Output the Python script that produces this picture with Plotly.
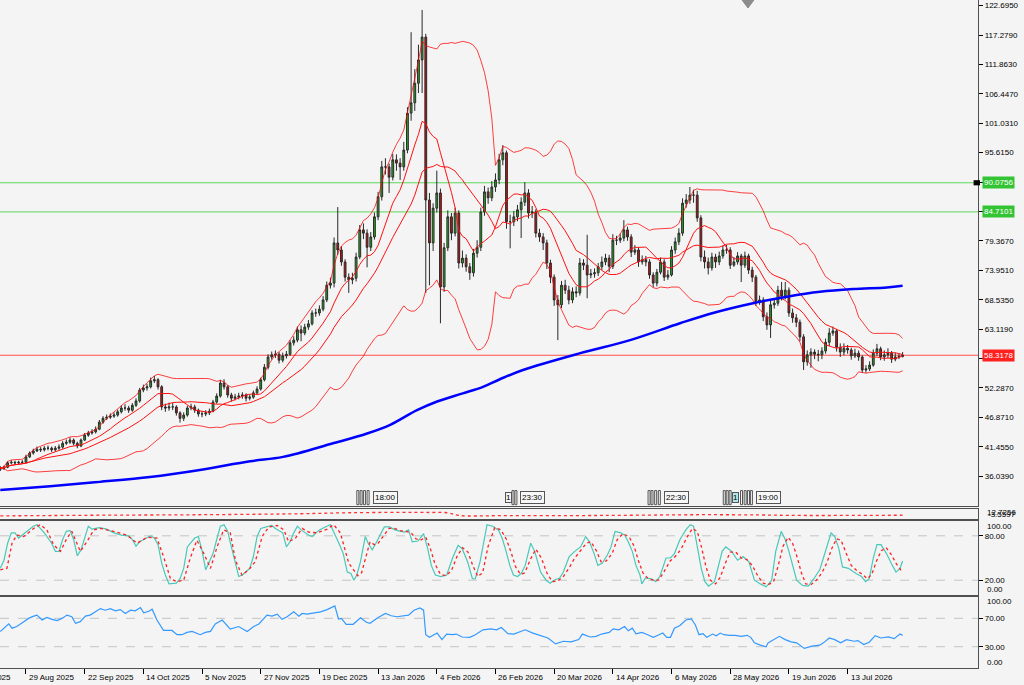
import numpy as np
import pandas as pd
import plotly.graph_objects as go

# daily bars, first visible bar is 20 Aug 2025 (no bar on 25 Dec and 3 Apr)
first_day = "2025-08-20"
holidays = ["2025-12-25", "2026-04-03"]

first_open = 37.3
closes = [
    37.5, 37.7, 38.5, 38.6, 38.5, 38.6, 38.6, 39.6, 40.3, 40.7,
    41.0, 40.9, 41.2, 41.2, 40.9, 41.2, 41.4, 42.1, 42.3, 42.7,
    42.1, 41.6, 42.7, 43.6, 44.0, 44.2, 44.7, 46.0, 46.7, 46.9,
    47.1, 47.3, 47.9, 48.6, 48.6, 48.2, 49.1, 49.9, 51.9, 52.3,
    52.5, 53.6, 53.8, 52.5, 48.8, 48.6, 48.8, 48.8, 47.7, 46.7,
    47.3, 48.6, 48.8, 48.2, 47.5, 47.5, 47.7, 48.0, 49.7, 50.8,
    53.2, 52.5, 51.0, 50.4, 50.6, 50.8, 51.0, 50.4, 50.6, 51.4,
    52.1, 53.8, 56.1, 58.0, 58.4, 58.5, 57.4, 58.2, 58.5, 60.6,
    61.1, 63.0, 62.4, 63.5, 64.1, 66.1, 66.1, 66.8, 68.5, 71.2,
    71.6, 79.0, 77.7, 75.5, 72.7, 72.2, 72.5, 76.4, 81.4, 80.8,
    78.2, 80.1, 83.8, 87.5, 93.0, 93.0, 91.1, 94.3, 93.7, 93.0,
    96.1, 102.9, 104.8, 108.4, 112.7, 116.9, 86.9, 79.0, 85.4, 88.2,
    70.9, 78.1, 83.8, 80.8, 84.5, 75.3, 76.2, 74.6, 73.5, 77.1,
    78.2, 84.7, 88.4, 87.3, 89.3, 90.6, 94.3, 95.6, 82.9, 82.9,
    83.8, 85.1, 86.5, 88.2, 84.5, 84.7, 80.8, 80.1, 79.0, 75.3,
    72.7, 68.5, 67.6, 71.2, 70.3, 68.5, 70.0, 69.8, 75.3, 74.9,
    73.1, 73.3, 73.5, 74.6, 75.5, 76.2, 74.7, 79.5, 79.5, 79.9,
    81.4, 80.1, 77.3, 77.7, 75.5, 75.9, 75.5, 73.1, 71.6, 73.6,
    75.5, 72.7, 73.1, 77.7, 79.2, 80.8, 86.3, 86.9, 87.8, 87.8,
    83.6, 76.4, 75.5, 74.4, 76.4, 75.5, 76.6, 77.7, 77.7, 74.9,
    75.5, 76.6, 74.9, 76.6, 74.0, 72.7, 68.1, 68.5, 65.4, 63.9,
    67.6, 67.9, 70.3, 69.2, 70.3, 66.1, 65.2, 64.4, 61.7, 57.1,
    58.4, 58.9, 58.5, 58.4, 59.1, 60.7, 62.4, 62.8, 59.8, 58.9,
    59.6, 59.3, 58.2, 58.7, 58.0, 55.6, 55.8, 56.5, 58.7, 59.5,
    58.0, 58.4, 58.7, 57.6, 58.0, 58.1, 58.3178,
]
highs = [
    37.9, 38.0, 38.8, 39.0, 38.9, 38.9, 39.0, 40.0, 40.6, 41.1,
    41.5, 41.4, 41.6, 41.7, 41.5, 41.6, 41.9, 42.5, 42.8, 43.2,
    43.0, 42.4, 43.0, 44.0, 44.4, 44.7, 45.2, 46.4, 47.1, 47.4,
    47.6, 47.8, 48.3, 49.1, 49.3, 49.0, 49.5, 50.4, 52.3, 52.9,
    53.1, 54.2, 54.5, 54.1, 52.8, 49.4, 49.6, 49.5, 49.1, 48.0,
    47.8, 49.0, 49.4, 49.2, 48.5, 48.0, 48.2, 48.5, 50.1, 51.3,
    53.8, 53.9, 52.8, 51.4, 51.2, 51.4, 51.5, 51.3, 51.1, 51.8,
    52.6, 54.2, 56.7, 58.5, 59.0, 59.2, 58.9, 58.8, 59.1, 61.1,
    61.8, 63.6, 63.8, 64.1, 64.8, 66.6, 66.9, 67.5, 69.2, 71.9,
    72.6, 80.0, 85.6, 78.4, 76.0, 73.4, 73.5, 77.2, 82.3, 82.6,
    81.5, 81.0, 84.6, 88.4, 94.1, 94.6, 93.6, 95.4, 95.3, 94.6,
    97.6, 104.0, 117.8, 111.0, 115.5, 121.9, 117.5, 88.2, 86.3, 92.3,
    89.0, 79.0, 85.0, 84.5, 85.5, 85.0, 77.6, 76.9, 75.3, 77.9,
    79.5, 85.5, 89.5, 89.2, 90.4, 91.8, 95.4, 97.0, 96.0, 84.2,
    84.9, 86.0, 87.4, 90.2, 88.9, 85.8, 85.2, 81.6, 80.8, 79.6,
    75.9, 73.2, 69.4, 72.0, 72.2, 71.1, 70.8, 71.0, 76.2, 76.0,
    80.5, 74.2, 74.3, 75.3, 76.5, 77.0, 76.8, 80.6, 80.3, 80.7,
    83.2, 82.0, 80.6, 78.6, 78.2, 76.7, 76.6, 76.0, 73.6, 74.2,
    76.3, 76.0, 74.0, 78.4, 80.0, 81.7, 87.2, 88.0, 89.3, 88.8,
    88.6, 84.1, 77.6, 76.3, 77.2, 77.0, 77.4, 78.5, 78.6, 78.2,
    76.4, 77.3, 77.0, 77.4, 77.0, 74.6, 73.1, 69.3, 69.0, 66.2,
    68.3, 68.7, 71.1, 71.8, 71.8, 70.8, 66.9, 65.9, 64.9, 62.2,
    59.2, 59.6, 59.4, 59.3, 59.8, 61.4, 63.3, 63.6, 63.1, 60.5,
    60.5, 60.2, 59.7, 59.5, 59.2, 58.3, 56.5, 57.2, 59.4, 60.4,
    59.9, 59.2, 59.6, 59.1, 58.8, 58.7, 58.9,
]
lows = [
    37.0, 37.2, 37.5, 38.2, 38.2, 38.2, 38.3, 38.4, 39.4, 40.0,
    40.5, 40.5, 40.6, 40.8, 40.5, 40.6, 40.9, 41.1, 41.8, 42.0,
    41.7, 41.2, 41.4, 42.5, 43.3, 43.7, 43.9, 44.5, 45.7, 46.4,
    46.6, 46.8, 47.0, 47.6, 48.1, 47.7, 47.9, 48.8, 49.6, 51.5,
    51.8, 52.2, 53.2, 52.0, 48.2, 47.9, 48.1, 48.2, 47.2, 45.9,
    46.2, 47.0, 48.2, 47.7, 47.0, 46.9, 47.1, 47.3, 47.8, 49.4,
    50.5, 52.0, 50.5, 49.8, 50.0, 50.2, 50.3, 49.8, 50.0, 50.3,
    51.1, 51.8, 53.5, 55.7, 57.5, 57.8, 56.8, 57.0, 57.7, 58.2,
    60.1, 60.7, 60.9, 62.0, 63.0, 63.8, 65.4, 65.6, 66.4, 68.1,
    70.6, 70.8, 76.8, 74.8, 71.9, 69.8, 71.4, 71.9, 76.0, 79.7,
    74.5, 77.5, 79.6, 83.2, 86.8, 91.6, 88.2, 90.5, 92.3, 90.6,
    92.3, 95.5, 101.5, 103.3, 106.6, 106.6, 69.8, 71.2, 77.5, 84.6,
    64.2, 70.0, 77.5, 79.5, 80.2, 74.3, 74.5, 73.7, 72.2, 72.8,
    76.3, 77.5, 84.0, 86.2, 86.7, 88.4, 89.8, 93.3, 81.6, 78.0,
    82.1, 83.0, 79.9, 85.8, 83.5, 83.6, 80.0, 79.2, 77.7, 74.2,
    71.6, 67.4, 61.1, 67.0, 69.6, 67.7, 67.9, 69.0, 69.3, 74.0,
    68.8, 72.5, 72.6, 72.9, 74.0, 74.9, 73.6, 74.2, 78.6, 79.0,
    79.3, 79.4, 76.4, 76.8, 74.6, 75.0, 74.7, 72.4, 70.8, 71.0,
    73.2, 72.0, 72.2, 72.8, 77.0, 78.6, 80.3, 85.5, 86.2, 86.4,
    82.9, 75.6, 74.3, 73.2, 73.9, 74.4, 74.9, 76.1, 77.0, 74.2,
    74.6, 75.0, 71.8, 74.4, 73.3, 71.8, 67.4, 67.6, 64.6, 63.0,
    61.5, 66.9, 67.4, 68.4, 68.6, 65.4, 64.3, 63.5, 60.9, 55.6,
    56.4, 56.0, 57.6, 57.2, 57.6, 58.6, 60.0, 61.9, 59.0, 58.0,
    58.3, 58.6, 57.5, 57.8, 57.3, 55.1, 55.1, 55.4, 56.2, 58.2,
    57.4, 57.3, 57.8, 56.9, 57.2, 57.6, 57.9,
]

# 200-day moving average (bar, price)
ma200_bar = [0, 13.6, 27.2, 40.8, 54.4, 68.1, 77.1, 90.7, 100, 106.3, 113.6, 119.1, 126.1,
             131.6, 136.2, 142.5, 158.1, 171.7, 185.3, 194.3, 205.2, 214.5, 223.5, 232.5, 241.7, 246]
ma200_val = [33.5, 34.2, 35.0, 35.9, 37.2, 38.8, 39.6, 42.1, 43.9, 45.5, 48.2, 49.8, 51.3,
             52.5, 53.9, 55.6, 58.7, 61.1, 64.2, 66.1, 67.9, 69.1, 70.0, 70.5, 70.8, 71.1]

# small indicator window under the price panel
ind_bar = [0, 27, 55, 82, 95, 109, 117, 122, 125, 136, 164, 191, 207, 218, 246]
ind_val = [3.8, 4.6, 5.2, 6.4, 7.6, 8.0, 7.9, 7.5, 4.3, 4.0, 4.3, 5.2, 4.9, 4.3, 4.6]

# stochastic %K
stoch_k_bar = [0, 1, 2, 3, 4, 5, 6, 7, 9, 10, 12, 14, 15, 16, 17, 18, 19, 20, 21, 22,
               23, 24, 25, 27, 29, 31, 33, 35, 36, 37, 38, 40, 41, 42, 43, 44, 45, 46, 48, 49,
               50, 51, 53, 54, 55, 56, 58, 59, 60, 61, 62, 63, 64, 65, 66, 67, 68, 69, 70, 71,
               73, 74, 75, 77, 78, 79, 80, 81, 82, 83, 84, 85, 86, 87, 89,
               90, 92.5, 93.5, 94.6, 95.6, 96.4, 97.2, 98.2, 99.5, 100.3,
               101.4, 102.4, 103.5, 104.7, 106.1, 107.6, 109.2, 110.2, 111.3, 112.3,
               113.9, 115.4, 116.5, 117.5, 118.6, 120.1, 121.7, 123.3, 124.8, 125.9,
               127.4, 128.7, 129.5, 130.8, 132.7, 134.2, 135.8, 136.8, 137.9, 138.9,
               139.9, 141, 142, 143.1, 144.6, 145.7, 147.3, 148.8, 149.9, 150.9,
               152.5, 153.5, 155.1, 156.6, 158.2, 159.6, 160.6, 161.9, 162.9, 164.1,
               165.5, 166.5, 167.6, 169.2, 170.2, 171.2, 172.3, 173.3, 174.4, 174.9,
               175.9, 177.5, 178.7, 179.8, 181.5, 182.7, 183.8, 185.3, 186.9, 188.1,
               189, 190, 191.1, 192.1, 193.1, 194.7, 195.7, 196.8, 197.8, 199.4,
               201, 202.5, 204.1, 205.6, 207.2, 208.8, 210.3, 211.4, 212.9, 214,
               215, 216.1, 217.1, 218.7, 220.3, 221.8, 223.4, 224.4, 225.5, 226.5,
               227.5, 228.6, 229.6, 231.2, 233.3, 234.8, 235.9, 236.9, 238, 239,
               240.1, 241.6, 243.2, 244.2, 245.3, 246]
stoch_k = [36, 47, 70, 84, 84, 77, 81, 85, 93, 95, 84, 70, 59, 59, 75, 86, 87, 75, 53, 61,
           77, 93, 89, 91, 89, 84, 81, 80, 75, 66, 72, 77, 80, 77, 68, 43, 27, 15, 16, 22,
           36, 65, 77, 79, 60, 34, 56, 75, 93, 95, 86, 65, 43, 25, 27, 31, 36, 52, 79, 90,
           93, 94, 90, 84, 65, 72, 84, 93, 88, 84, 81, 79, 84, 88, 93,
           95, 68, 56, 31, 29, 20, 27, 45, 79, 70,
           61, 70, 81, 92, 92, 88, 86, 85, 88, 72,
           73, 83, 63, 40, 27, 25, 27, 50, 67, 63,
           45, 22, 22, 45, 95, 93, 88, 77, 59, 40,
           27, 25, 29, 40, 70, 59, 31, 20, 16, 20,
           23, 31, 52, 59, 65, 79, 72, 56, 40, 43,
           54, 65, 86, 84, 81, 72, 59, 40, 27, 15,
           23, 22, 18, 25, 50, 50, 56, 75, 88, 95,
           93, 63, 36, 18, 12, 18, 36, 59, 65, 59,
           47, 52, 45, 20, 15, 11, 20, 59, 86, 75,
           59, 40, 20, 13, 12, 22, 34, 50, 68, 84,
           79, 63, 38, 36, 29, 25, 18, 22, 50, 68,
           68, 56, 40, 31, 36, 46]

# stochastic %D (signal)
stoch_d_bar = [0, 1.8, 3.2, 4.5, 6.4, 9.1, 10.9, 12.7, 14.5, 16.4,
               18.2, 19.5, 21.8, 23.6, 25.5, 27.3, 30.9, 34.5, 37.3, 40,
               42.7, 44.5, 46.4, 48.2, 50, 51.8, 53.6, 55.5, 57.3, 59.1,
               60.9, 62.7, 64.1, 65.9, 67.7, 69.5, 71.4, 73.2, 75.5, 77.3,
               78.6, 80.5, 82.3, 84.1, 86.4, 89.1, 90.9, 92.7, 95,
               96.5, 97.5, 98.5, 99.5, 100.8, 102, 103, 104.5, 106, 107.5,
               109, 110.5, 112, 113.3, 114.5, 116, 117.3, 118.5, 120, 121.5,
               123, 124.5, 126, 127.5, 128.8, 130.2, 131.5, 133, 134.8, 136.5,
               138, 139.3, 140.5, 141.8, 143, 144.5, 146, 147.5, 149, 150.5,
               152, 153.5, 155, 156.6, 158.2, 159.8, 161, 162.5, 163.8, 165.2,
               166.8, 168.2, 169.8, 171.5, 172.8, 174, 175.2, 176.6, 178, 179.5,
               181, 182.6, 184, 185.6, 187.2, 188.7, 190, 191.2, 192.4, 193.6,
               195, 196.3, 197.6, 199, 200.5, 202, 203.5, 205, 206.5, 208,
               209.4, 210.8, 212, 213.4, 214.8, 216, 217.2, 218.4, 219.6, 221,
               222.5, 224, 225.4, 226.6, 228, 229.2, 230.5, 232, 233.5, 235,
               236.4, 237.6, 238.8, 240.2, 241.5, 243, 244.3, 245.5, 246]
stoch_d = [34, 36, 70, 81, 79, 90, 95, 88, 68, 59,
           77, 86, 59, 72, 88, 90, 86, 81, 70, 78,
           77, 52, 22, 18, 20, 50, 74, 56, 36, 65,
           88, 84, 47, 27, 34, 45, 79, 92, 94, 88,
           72, 77, 90, 85, 84, 89, 95, 84, 43,
           33, 26, 30, 50, 72, 68, 70, 80, 90, 90,
           87, 86, 84, 76, 74, 78, 62, 42, 28, 26,
           33, 52, 64, 58, 40, 25, 30, 66, 91, 88,
           75, 57, 38, 28, 30, 48, 62, 50, 30, 18,
           19, 25, 36, 50, 60, 70, 72, 60, 45, 46,
           56, 75, 83, 78, 66, 46, 30, 22, 20, 20,
           32, 46, 52, 62, 78, 90, 86, 64, 38, 20,
           15, 24, 42, 58, 58, 50, 48, 40, 26, 16,
           14, 18, 38, 66, 78, 70, 52, 30, 15, 14,
           20, 30, 44, 62, 76, 74, 58, 40, 33, 28,
           22, 28, 45, 60, 64, 54, 42, 34, 36]

# RSI
rsi_bar = [0, 1.4, 2.3, 3.2, 4.5, 6.4, 7.7, 9.1, 10, 11.4,
           12.7, 14.1, 15.5, 16.8, 18.2, 19.5, 20.5, 21.8, 23.2, 24.5,
           25.9, 27.3, 28.6, 30, 31.4, 32.7, 34.1, 35.5, 36.8, 38.2,
           39.1, 40.5, 41.4, 42.7, 44.5, 46.8, 48.2, 49.5, 50.9, 52.3,
           54.5, 55.9, 57.3, 58.6, 60.5, 62.7, 65, 67.3, 69.1, 70.5,
           72.7, 74.1, 75.5, 76.8, 78.2, 80, 81.4, 82.3, 83.6, 85.5,
           87.3, 89.1,
           91.2, 92.2, 93.0, 94.3, 96.2, 98.2, 99.8, 100.8, 102.9, 105,
           106.6, 108.1, 109.7, 111.3, 112.8, 114.4, 115.4, 116, 117, 118.1,
           119.1, 120.4, 121.7, 123.3, 124.3, 125.9, 128, 129.5, 131.6, 133.7,
           135.3, 136.6, 138.4, 140, 141.5, 143.1, 145.2, 147.3, 149.3, 151.4,
           153.5, 155.6, 157.7, 158.7, 160.8, 162.4, 163.9, 166, 167.1, 168.6,
           170.2, 171.2, 172.3, 173.3, 174.9, 176.5, 178, 179.6, 180.6, 181.7,
           182.7, 183.8, 185.3, 186.9, 188.4, 189.5, 190.5, 191.6, 192.6, 194.2,
           195.2, 196.3, 197.3, 198.9, 200.4, 202, 203.6, 204.6, 205.6, 207.2,
           208.8, 209.3, 210.9, 212.4, 214, 215.6, 217.1, 219.2, 221.3, 223.4,
           224.4, 226, 227.5, 229.1, 230.7, 232.8, 233.8, 235.4, 236.9, 238.5,
           240.1, 242.1, 243.7, 245.3, 246]
rsi = [51.5, 58.4, 62.1, 56.1, 58.4, 65.3, 69.9, 73.1, 74.5, 67.6,
       71.3, 68.5, 66.7, 69.9, 74.5, 72.2, 63, 65.3, 73.1, 74.5,
       79.1, 83.7, 81.4, 83.7, 80.5, 82.3, 76.8, 81.4, 80.5, 85.1,
       77.7, 80, 82.8, 67.6, 52.9, 52.9, 46.9, 46.9, 50.1, 51.5,
       46.9, 50.1, 51.5, 62.1, 67.6, 54.7, 58.4, 51.5, 58.4, 62.1,
       74.5, 73.1, 75.9, 68.5, 72.2, 79.1, 73.1, 76.8, 75.9, 77.7,
       79.1, 82.3,
       87.4, 69, 69.9, 61.6, 61.6, 70.8, 64.4, 63, 70.8, 76.8,
       73.6, 72.2, 73.6, 74.5, 81.4, 84.6, 81.4, 46.9, 43.2, 46.9,
       49.2, 40, 47.8, 46.9, 47.8, 43.7, 43.2, 46.9, 53.8, 55.2,
       53.8, 57, 48.3, 47.8, 50.6, 53.8, 49.2, 46, 42.3, 34,
       37.7, 36.8, 40, 47.8, 43.7, 44.6, 47.8, 50.1, 55.2, 53.8,
       58.4, 52.4, 56.1, 48.3, 50.1, 46.9, 43.2, 46.9, 49.2, 43.2,
       43.2, 56.1, 59.8, 67.6, 69, 60.7, 46.9, 48.3, 43.2, 47.8,
       45.5, 49.2, 46.9, 46, 46, 44.6, 46, 43.2, 35.4, 32.2,
       29.9, 35.4, 40, 44.6, 40, 36.8, 35.4, 27.6, 30.8, 32.2,
       35.4, 42.3, 40, 35.4, 40, 37.7, 38.6, 33.1, 36.3, 45.5,
       42.3, 43.7, 41.4, 47.8, 46]

green_levels = [90.0756, 84.7101]
bid_level = 58.3178

price_ticks = [122.695, 117.279, 111.863, 106.447, 101.031, 95.615, 90.199, 84.783, 79.367,
               73.951, 68.535, 63.119, 57.703, 52.287, 46.871, 41.455, 36.039]
tick_dates = ["2025-08-07", "2025-08-29", "2025-09-22", "2025-10-14", "2025-11-05", "2025-11-27",
              "2025-12-19", "2026-01-13", "2026-02-04", "2026-02-26", "2026-03-20", "2026-04-14",
              "2026-05-06", "2026-05-28", "2026-06-19", "2026-07-13"]
tick_labels = ["7 Aug 2025", "29 Aug 2025", "22 Sep 2025", "14 Oct 2025", "5 Nov 2025", "27 Nov 2025",
               "19 Dec 2025", "13 Jan 2026", "4 Feb 2026", "26 Feb 2026", "20 Mar 2026", "14 Apr 2026",
               "6 May 2026", "28 May 2026", "19 Jun 2026", "13 Jul 2026"]

# calendar event flags at the bottom of the price window
event_ticks = [97.2, 98.1, 99.0, 100.0, 139.5, 140.3, 176.6, 177.4, 178.4, 179.4,
               197.1, 197.9, 198.7, 201.8, 202.8, 203.7, 204.5]
event_boxes = [(137.6, "#f4f4f4"), (199.6, "#aee6ee")]
event_labels = [(101.6, "18:00"), (141.6, "23:30"), (180.9, "22:30"), (206.0, "19:00")]

# ---------------------------------------------------------------------------
bars = np.arange(len(closes))
opens = [first_open] + closes[:-1]

s = pd.Series(closes)
bb_mid = s.rolling(20, min_periods=1).mean()
bb_dev = s.rolling(20, min_periods=1).std(ddof=0)
bb_up = bb_mid + 2 * bb_dev
bb_dn = bb_mid - 2 * bb_dev
sma10 = s.rolling(10, min_periods=1).mean()

xr = [-0.08, 266.55]
tick_pos = [int(np.busday_count(first_day, d, holidays=holidays)) for d in tick_dates]

fig = go.Figure()

fig.add_trace(go.Candlestick(
    x=bars, open=opens, high=highs, low=lows, close=closes,
    increasing=dict(fillcolor="#22aa22", line=dict(color="#2a2a2a", width=1)),
    decreasing=dict(fillcolor="#cc1111", line=dict(color="#2a2a2a", width=1)),
    hoverinfo="skip", showlegend=False, xaxis="x", yaxis="y"))

for line, col in [(bb_up, "rgba(255,0,0,0.75)"), (bb_dn, "rgba(255,0,0,0.75)"),
                  (bb_mid, "#ff1010"), (sma10, "#ff1010")]:
    fig.add_trace(go.Scatter(x=bars, y=line, mode="lines", line=dict(color=col, width=1),
                             hoverinfo="skip", xaxis="x", yaxis="y"))

fig.add_trace(go.Scatter(x=ma200_bar, y=ma200_val, mode="lines", line=dict(color="#0000ff", width=2.5, shape="spline"),
                         hoverinfo="skip", xaxis="x", yaxis="y"))

fig.add_trace(go.Scatter(x=ind_bar, y=ind_val, mode="lines", line=dict(color="#ff3030", width=1.3, dash="dot", shape="spline"),
                         hoverinfo="skip", xaxis="x2", yaxis="y2"))

fig.add_trace(go.Scatter(x=stoch_k_bar, y=stoch_k, mode="lines", line=dict(color="#48c8b8", width=1.2),
                         hoverinfo="skip", xaxis="x3", yaxis="y3"))
fig.add_trace(go.Scatter(x=stoch_d_bar, y=stoch_d, mode="lines", line=dict(color="#ff2020", width=1.3, dash="dot"),
                         hoverinfo="skip", xaxis="x3", yaxis="y3"))

fig.add_trace(go.Scatter(x=rsi_bar, y=rsi, mode="lines", line=dict(color="#3399ff", width=1.2),
                         hoverinfo="skip", xaxis="x4", yaxis="y4"))

frame = dict(showline=True, linecolor="#505050", linewidth=1.2, mirror=True, zeroline=False, showgrid=False)
tickfont = dict(family="Liberation Sans, Arial, sans-serif", size=8, color="#000000")

fig.update_layout(
    width=1024, height=685,
    margin=dict(l=0, r=46, t=0, b=16),
    paper_bgcolor="#f4f4f4", plot_bgcolor="#f4f4f4",
    font=tickfont, showlegend=False,
    xaxis=dict(domain=[0, 1], anchor="y", range=xr, showticklabels=False, ticks="",
               rangeslider=dict(visible=False), **frame),
    yaxis=dict(domain=[0.2436, 1], anchor="x", side="right", range=[30.55, 123.73],
               tickvals=price_ticks, tickformat=".4f", ticks="outside", ticklen=4,
               tickcolor="#000000", tickfont=tickfont, **frame),
    xaxis2=dict(domain=[0, 1], anchor="y2", range=xr, showticklabels=False, ticks="", **frame),
    yaxis2=dict(domain=[0.2242, 0.2399], anchor="x2", side="right", range=[0, 12.7256],
                showticklabels=False, ticks="", **frame),
    xaxis3=dict(domain=[0, 1], anchor="y3", range=xr, showticklabels=False, ticks="", **frame),
    yaxis3=dict(domain=[0.1106, 0.2212], anchor="x3", side="right", range=[0, 100],
                tickvals=[20, 80], ticktext=["20.00", "80.00"], ticks="outside", ticklen=4,
                tickcolor="#000000", tickfont=tickfont, **frame),
    xaxis4=dict(domain=[0, 1], anchor="y4", range=xr, tickvals=tick_pos, showticklabels=False,
                ticks="outside", ticklen=5, tickcolor="#000000", **frame),
    yaxis4=dict(domain=[0.0015, 0.1076], anchor="x4", side="right", range=[0, 100],
                tickvals=[30, 70], ticktext=["30.00", "70.00"], ticks="outside", ticklen=4,
                tickcolor="#000000", tickfont=tickfont, **frame),
)

shapes = []
for lv in green_levels:
    shapes.append(dict(type="line", xref="paper", x0=0, x1=1, yref="y", y0=lv, y1=lv,
                       line=dict(color="#5cd65c", width=1), layer="below"))
shapes.append(dict(type="line", xref="paper", x0=0, x1=1, yref="y", y0=bid_level, y1=bid_level,
                   line=dict(color="#ff5050", width=1.2), layer="below"))
shapes.append(dict(type="rect", xref="paper", x0=0.9955, x1=1.002, yref="y", y0=89.6, y1=90.55,
                   fillcolor="#000000", line=dict(width=0)))
for yref, levels in [("y3", [20, 80]), ("y4", [30, 70])]:
    for lv in levels:
        shapes.append(dict(type="line", xref="paper", x0=0, x1=1, yref=yref, y0=lv, y1=lv,
                           line=dict(color="#c4c4c4", width=1, dash="dash"), layer="below"))
for b in event_ticks:
    shapes.append(dict(type="rect", xref="x", yref="y", x0=b, x1=b + 0.55, y0=30.8, y1=33.4,
                       line=dict(color="#555555", width=1), fillcolor="rgba(0,0,0,0)"))
shapes.append(dict(type="path", xref="paper", yref="paper",
                   path="M 0.7587 1 L 0.7648 0.988 L 0.7709 1 Z",
                   fillcolor="#8c8c8c", line=dict(color="#8c8c8c", width=1)))

ann = []
for pos, lbl in zip(tick_pos, tick_labels):
    ann.append(dict(xref="paper", yref="paper", x=(pos - xr[0]) / (xr[1] - xr[0]), y=0,
                    xanchor="left", yanchor="top", xshift=1, yshift=-2, text=lbl,
                    showarrow=False, font=tickfont))
for lv, col in [(green_levels[0], "#33c433"), (green_levels[1], "#33c433"), (bid_level, "#ff2020")]:
    ann.append(dict(xref="paper", yref="y", x=1, y=lv, xanchor="left", xshift=4, text="%.4f" % lv,
                    showarrow=False, bgcolor=col, borderpad=1,
                    font=dict(family="Liberation Sans, Arial, sans-serif", size=8, color="#ffffff")))
for yref, y, shift, txt in [("y3", 100, -5, "100.00"), ("y3", 0, 6, "0.00"),
                            ("y4", 100, -4, "100.00"), ("y4", 0, 5, "0.00")]:
    ann.append(dict(xref="paper", yref=yref, x=1, y=y, xanchor="left", xshift=7, yshift=shift,
                    text=txt, showarrow=False, font=tickfont))
ann.append(dict(xref="paper", yref="y2", x=1, y=8, xanchor="left", xshift=7, text="12.7256",
                showarrow=False, font=tickfont))
ann.append(dict(xref="paper", yref="y2", x=1, y=5, xanchor="left", xshift=8, text="-3.5597",
                showarrow=False, font=tickfont))
for b, col in event_boxes:
    ann.append(dict(xref="x", yref="y", x=b, y=32.1, xanchor="left", text="1", showarrow=False,
                    bgcolor=col, bordercolor="#555555", borderwidth=1, borderpad=0,
                    font=dict(family="Liberation Sans, Arial, sans-serif", size=8, color="#000000")))
for b, txt in event_labels:
    ann.append(dict(xref="x", yref="y", x=b, y=32.1, xanchor="left", text=txt, showarrow=False,
                    bgcolor="#f8f8f8", bordercolor="#555555", borderwidth=1, borderpad=1,
                    font=dict(family="Liberation Sans, Arial, sans-serif", size=8, color="#000000")))

fig.update_layout(shapes=shapes, annotations=ann)

# the page should start at the very corner, like the terminal window does
fig.write_html("out.html", config={"displayModeBar": False},
               post_script="document.body.style.margin='0';")
